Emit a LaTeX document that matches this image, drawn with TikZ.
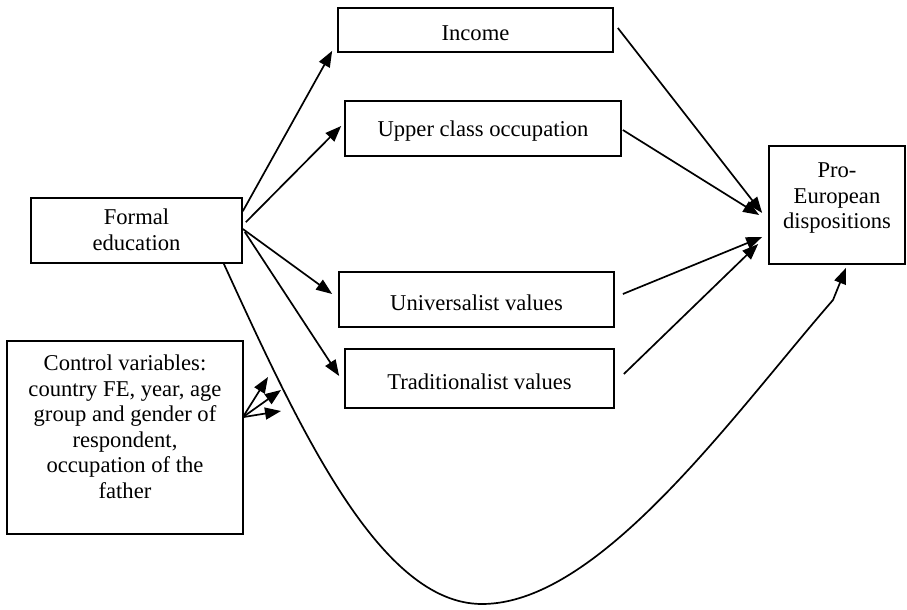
\documentclass[tikz,border=0pt]{standalone}
\usepackage{fontspec}
\setmainfont{Liberation Serif}
\usetikzlibrary{calc,arrows.meta}
\newcommand{\dn}[1]{\raisebox{-3pt}[\height][\depth]{#1}}
\tikzset{
  box/.style={draw, line width=1.7pt, inner sep=0pt, align=center,
    font=\fontsize{22.6}{25.5}\selectfont},
  arr/.style={line width=1.7pt, -{Triangle[length=16pt,width=12pt]}},
}
\begin{document}
\begin{tikzpicture}[x=1pt,y=-1pt]
\useasboundingbox (0,0) rectangle (907,610);
% boxes
\node[box, minimum width=275, minimum height=44] (inc) at (475.5,30) {\dn{Income}};
\node[box, minimum width=276, minimum height=55] (upc) at (483,128.5) {\dn{Upper class occupation}};
\node[box, minimum width=275, minimum height=55] (uni) at (476.5,299.5) {\dn{Universalist values}};
\node[box, minimum width=269, minimum height=59] (tra) at (479.5,378.5) {\dn{Traditionalist values}};
\node[box] (fe) at (136.5,230.5) {\begin{minipage}[c][65pt][t]{211pt}\centering\vspace*{11pt}
Formal\\education\end{minipage}};
\node[box] (ctrl) at (125,437.5) {\begin{minipage}[c][193pt][t]{236pt}\centering\vspace*{14pt}
Control variables:\\country FE, year, age\\group and gender of\\respondent,\\occupation of the\\father\end{minipage}};
\node[box] (pro) at (837,205) {\begin{minipage}[c][118pt][t]{136pt}\centering\vspace*{17pt}
Pro-\\European\\dispositions\end{minipage}};
% arrows from formal education
\draw[arr] ($(fe.north east)+(0,14)$) -- ($(inc.south west)+(-5,-2)$);
\draw[arr] ($(fe.north east)+(3,25)$) -- ($(upc.west)+(-3,-2.5)$);
\draw[arr] ($(fe.east)+(0,-1.5)$) -- ($(uni.west)+(-6,-5.5)$);
\draw[arr] ($(fe.east)+(2,1.5)$) -- ($(tra.west)+(-5,-2.5)$);
% arrows to pro-european
\draw[arr] ($(inc.east)+(4,-2)$) -- ($(pro.west)+(-6,8)$);
\draw[arr] ($(upc.east)+(1,1.5)$) -- ($(pro.west)+(-9,10)$);
\draw[arr] ($(uni.east)+(8,-5.5)$) -- ($(pro.west)+(-6,32)$);
\draw[arr] ($(tra.east)+(9,-4.5)$) -- ($(pro.west)+(-10,39)$);
% long curved path
\coordinate (low) at (482,604);
\coordinate (kink) at (833,300);
\draw[arr] ($(fe.south east)+(-19,0)$) .. controls (300,430) and (380,604) .. (low)
  .. controls (600,604) and (733,415) .. (kink) -- ($(pro.south)+(9,3)$);
% control variable arrows
\coordinate (co) at ($(ctrl.north east)+(-1,77)$);
\coordinate (c1) at (268,377);
\coordinate (c2) at (281,390);
\coordinate (c3) at (281,411);
\draw[arr] (co) -- (c1);
\draw[arr] (co) -- (c2);
\draw[arr] (co) -- (c3);
\end{tikzpicture}
\end{document}
